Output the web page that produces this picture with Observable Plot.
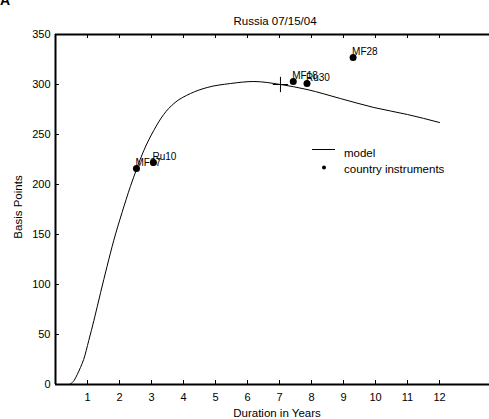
<!DOCTYPE html>
<html>
<head>
<meta charset="utf-8">
<script src="https://cdn.jsdelivr.net/npm/d3@7"></script>
<script src="https://cdn.jsdelivr.net/npm/@observablehq/plot@0.6"></script>
<style>
  html, body { margin: 0; padding: 0; background: #fff; }
  #chart svg { display: block; }
</style>
</head>
<body>
<div id="chart"></div>
<script>
// Model curve (duration in years, basis points)
const modelDuration = [0, 0.42, 0.47, 0.58, 0.68, 0.78, 0.88, 1.04, 1.2, 1.41, 1.61, 1.82, 2.08, 2.34, 2.53, 2.76, 3.07, 3.38, 3.70, 4.22, 4.74, 5.47, 6.2, 7.03, 7.86, 8.9, 9.95, 11.0, 12.0];
const modelBp       = [0, 0,    0.7,  4,    10,   17,   25,   44,   64,  92,   118,  144,  172,  198,  215,  234,  254,  270,  281,  291,  297,  301,  303, 300,  295,  286, 277,  270,  262];

// Country instruments
const instNames    = ["MF07", "Ru10", "MF18", "Ru30", "MF28"];
const instDuration = [2.53, 3.06, 7.43, 7.86, 9.3];
const instBp       = [216, 222, 303, 301, 327];

// Marker on model
const markDuration = [7.03];
const markBp = [300];

const xTicks = [1,2,3,4,5,6,7,8,9,10,11,12];
const yTicks = [0,50,100,150,200,250,300,350];

const title = "Russia 07/15/04";
const xLabel = "Duration in Years";
const yLabel = "Basis Points";
const panelLetter = "A";
const legendItems = ["model", "country instruments"];

const model = modelDuration.map((d, i) => ({x: d, y: modelBp[i]}));
const inst = instNames.map((n, i) => ({name: n, x: instDuration[i], y: instBp[i]}));
const marks = markDuration.map((d, i) => ({x: d, y: markBp[i]}));

const W = 489, H = 419, mL = 55, mR = 0, mT = 34, mB = 35;
const xMax = (W - mL - mR) / ((439 - 87) / 11);
const tickLen = 4;

const chart = Plot.plot({
  width: W, height: H,
  marginLeft: mL, marginRight: mR, marginTop: mT, marginBottom: mB,
  style: {fontFamily: "'Liberation Sans', Arial, sans-serif", fontSize: "11px", color: "#000", background: "#fff"},
  x: {domain: [0, xMax]},
  y: {domain: [0, 350]},
  marks: [
    Plot.axisX({ticks: xTicks, tickSize: 0, tickPadding: 9, label: null, fontSize: 11}),
    Plot.axisY({ticks: yTicks, tickSize: 0, tickPadding: 5, label: null, fontSize: 11}),
    // frame
    Plot.ruleX([0], {stroke: "#000", strokeWidth: 2}),
    Plot.ruleY([0, 350], {stroke: "#000", strokeWidth: 2}),
    // model
    Plot.line(model, {x: "x", y: "y", curve: "monotone-x", stroke: "#000", strokeWidth: 1}),
    Plot.dot(marks, {x: "x", y: "y", symbol: "plus", r: 5, stroke: "#000", strokeWidth: 1}),
    // instruments
    Plot.dot(inst, {x: "x", y: "y", r: 3.5, fill: "#000"}),
    Plot.text(inst, {x: "x", y: "y", text: "name", textAnchor: "start", dx: -1, dy: -6, fontSize: 10, fill: "#000"})
  ]
});

document.getElementById("chart").appendChild(chart);

const sx = chart.scale("x"), sy = chart.scale("y");
const svg = d3.select(chart);
const font = "'Liberation Sans', Arial, sans-serif";

// inner ticks drawn from the plot's own scales
const tg = svg.append("g").attr("stroke", "#000").attr("stroke-width", 1);
const yBot = sy.apply(0), yTop = sy.apply(350), xLeft = sx.apply(0);
xTicks.forEach(t => {
  const x = Math.round(sx.apply(t)) + 0.5;
  tg.append("line").attr("x1", x).attr("x2", x).attr("y1", yBot).attr("y2", yBot - tickLen);
  tg.append("line").attr("x1", x).attr("x2", x).attr("y1", yTop).attr("y2", yTop + tickLen);
});
yTicks.slice(1, -1).forEach(t => {
  const y = Math.round(sy.apply(t)) + 0.5;
  tg.append("line").attr("x1", xLeft).attr("x2", xLeft + tickLen).attr("y1", y).attr("y2", y);
});

const addText = (x, y, s, size, anchor) => svg.append("text").attr("x", x).attr("y", y).attr("text-anchor", anchor)
  .attr("dominant-baseline", "central").attr("font-family", font).attr("font-size", size).attr("fill", "#000").text(s);

addText(275, 21, title, 11.5, "middle");
addText(277, 413, xLabel, 11.5, "middle");
svg.append("text").attr("transform", "translate(18,207) rotate(-90)").attr("text-anchor", "middle").attr("dominant-baseline", "central")
  .attr("font-family", font).attr("font-size", 11.5).attr("fill", "#000").text(yLabel);
svg.append("text").attr("x", 0).attr("y", 5).attr("text-anchor", "start").attr("font-family", font).attr("font-weight", "bold").attr("font-size", 14).attr("fill", "#000").text(panelLetter);

// legend
const lg = svg.append("g");
lg.append("line").attr("x1", 312).attr("x2", 335).attr("y1", 149.5).attr("y2", 149.5).attr("stroke", "#000").attr("stroke-width", 1);
lg.append("circle").attr("cx", 324).attr("cy", 167.5).attr("r", 2).attr("fill", "#000");
legendItems.forEach((d, i) => addText(344, 153 + i * 16, d, 11.5, "start"));
</script>
</body>
</html>
